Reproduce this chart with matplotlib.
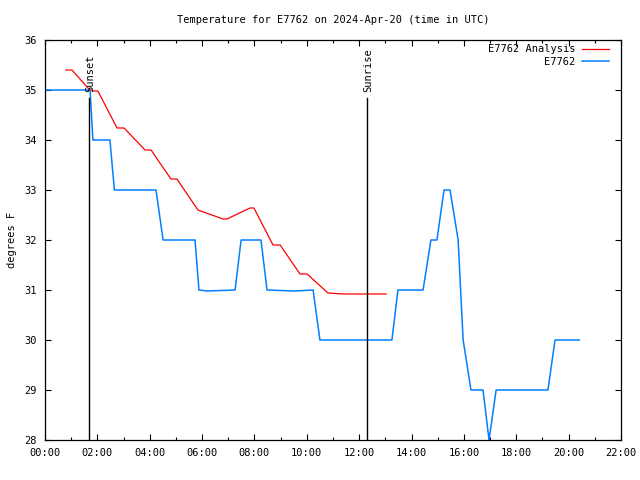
import numpy as np
import matplotlib
matplotlib.use("Agg")
import matplotlib.pyplot as plt

plt.rcParams['font.family'] = ['DejaVu Sans Mono']

# station observations (hours UTC, deg F)
obs_hours = [0.0, 1.72, 1.83, 2.48, 2.65, 4.24, 4.51, 5.73, 5.88, 6.2, 7.26, 7.49,
             8.25, 8.48, 9.5, 10.24, 10.50, 11.2, 13.25, 13.48, 14.44, 14.74, 14.97,
             15.24, 15.47, 15.78, 15.97, 16.27, 16.73, 16.96, 17.23, 19.21, 19.48, 20.40]
obs_temps = [35.0, 35.0, 34.0, 34.0, 33.0, 33.0, 32.0, 32.0, 31.0, 30.98, 31.0, 32.0,
             32.0, 31.0, 30.98, 31.0, 30.0, 30.0, 30.0, 31.0, 31.0, 32.0, 32.0,
             33.0, 33.0, 32.0, 30.0, 29.0, 29.0, 28.0, 29.0, 29.0, 30.0, 30.0]

# analysis values
ana_hours = [0.80, 1.03, 1.64, 1.83, 2.02, 2.75, 3.02, 3.82, 4.05, 4.81, 5.04, 5.84,
             6.80, 6.95, 7.83, 7.98, 8.71, 8.98, 9.74, 10.01, 10.81, 11.42, 13.03]
ana_temps = [35.40, 35.40, 35.04, 34.98, 34.98, 34.24, 34.24, 33.80, 33.80, 33.22, 33.22, 32.60,
             32.42, 32.42, 32.64, 32.64, 31.90, 31.90, 31.32, 31.32, 30.94, 30.92, 30.92]

sunset = 1.68
sunrise = 12.30

xtick_hours = list(range(0, 23, 2))
xtick_labels = ["%02d:00" % h for h in xtick_hours]

fig = plt.figure(figsize=(6.4, 4.8), dpi=100)
ax = fig.add_axes([45/640, 40/480, 576/640, 400/480])

ax.plot(ana_hours, ana_temps, color='#ff0000', lw=0.9, label='E7762 Analysis')
ax.plot(obs_hours, obs_temps, color='#0080ff', lw=1.1, label='E7762')

# sun lines
ax.plot([sunset, sunset], [28, 34.84], color='black', lw=1)
ax.plot([sunrise, sunrise], [28, 34.84], color='black', lw=1)
ax.text(sunset + 0.03, 34.95, 'Sunset', rotation=90, ha='center', va='bottom', fontsize=7.5)
ax.text(sunrise + 0.03, 34.95, 'Sunrise', rotation=90, ha='center', va='bottom', fontsize=7.5)

ax.set_xlim(0, 22)
ax.set_ylim(28, 36)
ax.set_xticks(xtick_hours)
ax.set_xticklabels(xtick_labels)
ax.set_xticks(np.arange(1, 22, 2), minor=True)
ax.set_yticks(range(28, 37))
ax.tick_params(which='both', direction='in', top=True, right=True, labelsize=7.5, pad=6)
ax.tick_params(which='major', length=4.5, width=0.8)
ax.tick_params(which='minor', length=2.5, width=0.8)
for s in ax.spines.values():
    s.set_linewidth(0.9)

ax.set_ylabel('degrees F', fontsize=7.5, labelpad=5)
ax.set_title('Temperature for E7762 on 2024-Apr-20 (time in UTC)', fontsize=7.5, pad=12)

ax.legend(loc='upper right', bbox_to_anchor=(1 - 8/576, 1.0), frameon=False,
          markerfirst=False, fontsize=7.5, handlelength=2.6, handletextpad=0.6,
          borderaxespad=0, labelspacing=0.25)

fig.savefig('out.png', dpi=100)
